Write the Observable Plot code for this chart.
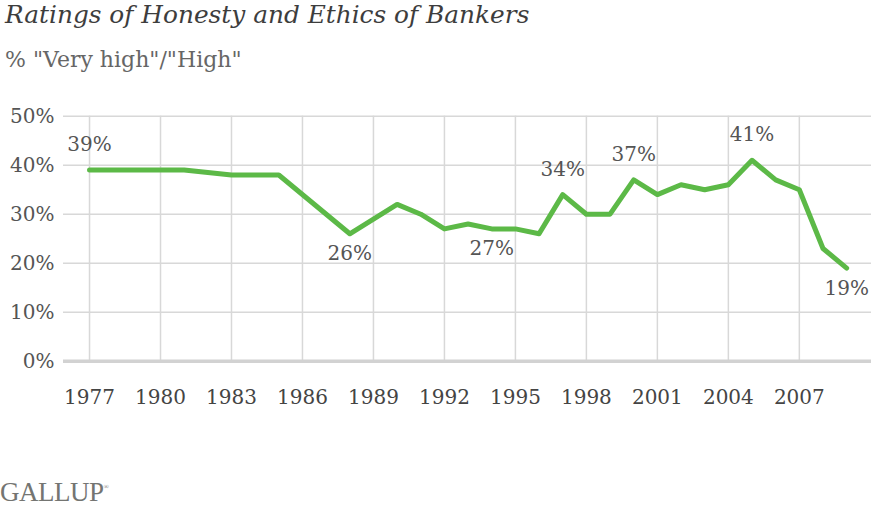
<!DOCTYPE html>
<html>
<head>
<meta charset="utf-8">
<script src="https://cdn.jsdelivr.net/npm/d3@7"></script>
<script src="https://cdn.jsdelivr.net/npm/@observablehq/plot@0.6"></script>
<style>
  html, body { margin: 0; padding: 0; background: #fff; }
  #wrap { width: 871px; height: 507px; position: relative; overflow: hidden; }
  #header { position: relative; height: 80px; }
  #title { position: absolute; left: 5px; top: 0px; font-family: "DejaVu Serif", serif; font-style: italic; font-size: 24.8px; line-height: 29px; color: #3d3d3d; white-space: nowrap; }
  #subtitle { position: absolute; left: 5px; top: 47px; font-family: "DejaVu Serif", serif; font-size: 22px; line-height: 26px; color: #666; white-space: nowrap; }
  #chart svg { display: block; }
  #caption { position: relative; height: 77px; }
  #logo { position: absolute; left: 0px; top: 49px; font-family: "Liberation Serif", serif; font-size: 27px; line-height: 1; color: #747572; letter-spacing: -0.5px; }
  #logo sup { font-size: 7px; letter-spacing: 0; vertical-align: 12px; }
</style>
</head>
<body>
<div id="wrap">
  <div id="header">
    <div id="title">Ratings of Honesty and Ethics of Bankers</div>
    <div id="subtitle">% "Very high"/"High"</div>
  </div>
  <div id="chart"></div>
  <div id="caption"><div id="logo">GALLUP<sup>®</sup></div></div>
</div>
<script>
const years  = [1977, 1981, 1983, 1985, 1988, 1990, 1991, 1992, 1993, 1994, 1995, 1996, 1997, 1998, 1999, 2000, 2001, 2002, 2003, 2004, 2005, 2006, 2007, 2008, 2009];
const values = [39,   39,   38,   38,   26,   32,   30,   27,   28,   27,   27,   26,   34,   30,   30,   37,   34,   36,   35,   36,   41,   37,   35,   23,   19];
const labelYears  = [1977, 1988, 1994, 1997, 2000, 2005, 2009];
const labelAbove  = [true, false, false, true, true, true, false];
const xTicks = [1977, 1980, 1983, 1986, 1989, 1992, 1995, 1998, 2001, 2004, 2007];
const yTicks = [0, 10, 20, 30, 40, 50];

const data = years.map((y, i) => ({year: y, value: values[i]}));
const labels = labelYears.map((y, i) => ({year: y, value: values[years.indexOf(y)], above: labelAbove[i]}));

const font = "DejaVu Serif, serif";
const plot = Plot.plot({
  width: 871,
  height: 350,
  marginLeft: 63,
  marginRight: 0,
  marginTop: 35.7,
  marginBottom: 69.3,
  style: {fontFamily: font, fontSize: "20px", color: "#444", background: "transparent"},
  x: {domain: [1975.9, 2010.05], label: null},
  y: {domain: [0, 50], label: null},
  marks: [
    Plot.gridY(yTicks.slice(1), {stroke: "#d8d8d8", strokeOpacity: 1, strokeWidth: 1.5}),
    Plot.gridX(xTicks, {y1: 0, y2: 50, stroke: "#d8d8d8", strokeOpacity: 1, strokeWidth: 1.5}),
    Plot.ruleY([0], {stroke: "#d2d2d2", strokeWidth: 3.5}),
    Plot.axisY({ticks: yTicks, tickFormat: d => d + "%", tickSize: 0, tickPadding: 9, fill: "#555", fontSize: 20}),
    Plot.axisX({ticks: xTicks, tickFormat: d => String(d), tickSize: 0, tickPadding: 29, fill: "#444", fontSize: 20}),
    Plot.line(data, {x: "year", y: "value", stroke: "#5cb947", strokeWidth: 5, strokeLinejoin: "round"}),
    Plot.text(labels.filter(d => d.above), {x: "year", y: "value", text: d => d.value + "%", dy: -25.5, fill: "#555", fontSize: 20}),
    Plot.text(labels.filter(d => !d.above), {x: "year", y: "value", text: d => d.value + "%", dy: 20, fill: "#555", fontSize: 20})
  ]
});
document.getElementById("chart").appendChild(plot);
</script>
</body>
</html>
